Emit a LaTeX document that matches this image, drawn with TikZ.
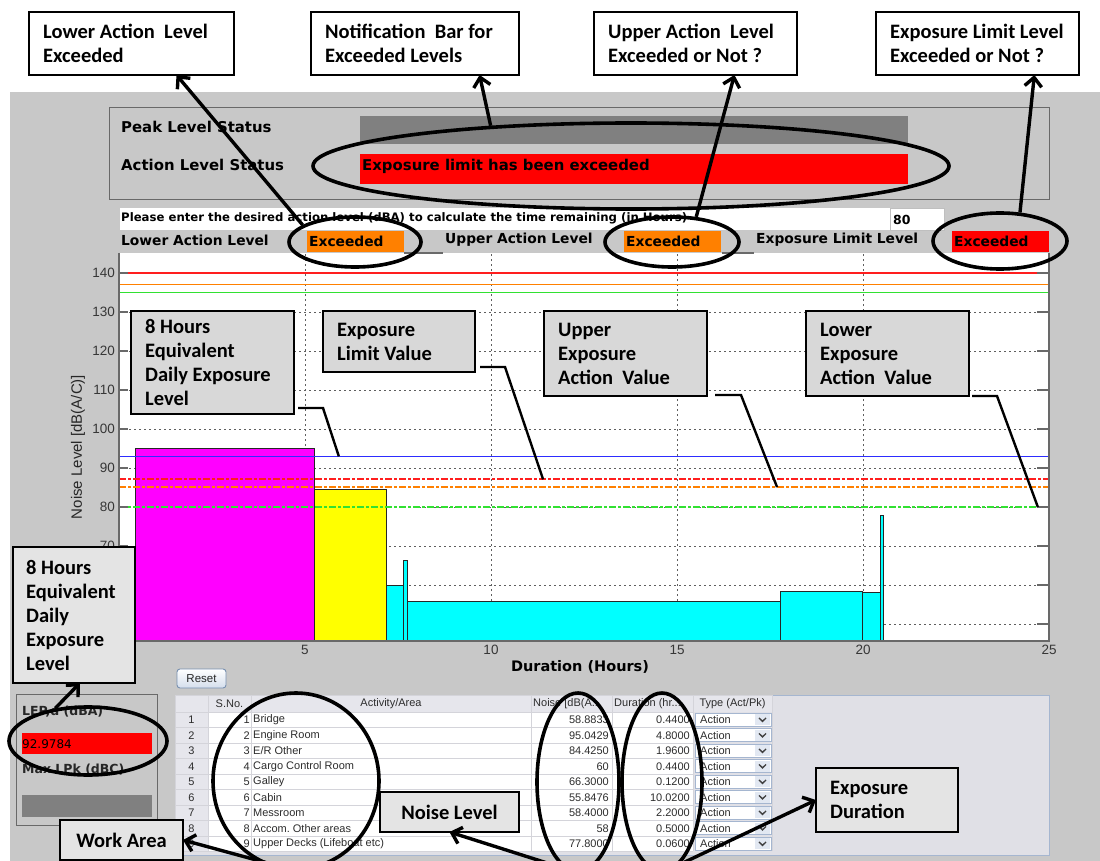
\documentclass[tikz,border=0pt]{standalone}
\usepackage{fontspec}
\usetikzlibrary{shapes.geometric,arrows.meta}
\setmainfont{Liberation Sans}
\newfontfamily\calloutfont{Carlito}
\newfontfamily\uifont{DejaVu Sans}

\definecolor{panelgray}{RGB}{200,200,200}
\definecolor{bargray}{RGB}{128,128,128}
\definecolor{alarmred}{RGB}{255,0,0}
\definecolor{alarmorange}{RGB}{255,128,0}
\definecolor{notefill}{RGB}{216,216,216}
\definecolor{notefilllight}{RGB}{228,228,228}
\definecolor{framegray}{RGB}{105,105,105}
\definecolor{gridgray}{RGB}{95,95,95}
\definecolor{limitred}{RGB}{255,30,30}
\definecolor{limitorange}{RGB}{255,128,0}
\definecolor{limitgreen}{RGB}{50,225,50}
\definecolor{lexblue}{RGB}{45,45,255}
\definecolor{barmagenta}{RGB}{255,0,255}
\definecolor{baryellow}{RGB}{255,255,0}
\definecolor{barcyan}{RGB}{0,255,255}
\definecolor{tablebg}{RGB}{224,224,230}
\definecolor{tableedge}{RGB}{165,182,208}
\definecolor{cellline}{RGB}{212,212,218}
\definecolor{headfill}{RGB}{230,230,236}
\definecolor{tabletext}{RGB}{45,45,45}
\definecolor{ticktext}{RGB}{55,55,55}
\definecolor{combobtn}{RGB}{226,232,242}
\definecolor{btnedge}{RGB}{120,144,176}
\definecolor{btnshade}{RGB}{212,222,236}

\begin{document}
\begin{tikzpicture}[x=1pt,y=-1pt,
  callbox/.style={draw=black, line width=2.8pt, anchor=north west, inner sep=0pt, outer sep=0pt},
  calltext/.style={anchor=west, inner sep=0pt, align=left,
    font=\calloutfont\bfseries\fontsize{20.5}{24}\selectfont},
  ring/.style={ellipse, draw=black, line width=3.6pt, inner sep=0pt},
  pointer/.style={line width=3.4pt, -{Straight Barb[length=9pt,width=17pt]}},
  leader/.style={line width=2.4pt, line join=miter},
  statuslabel/.style={anchor=west, inner sep=0pt, font=\uifont\bfseries\fontsize{14.9}{17}\selectfont},
  rowlabel/.style={anchor=west, inner sep=0pt, font=\uifont\bfseries\fontsize{13.8}{16}\selectfont},
  flag/.style={anchor=north west, inner xsep=2pt, inner ysep=0pt, text width=93pt,
    minimum height=21pt, align=left, font=\uifont\bfseries\fontsize{13.8}{16}\selectfont},
  gridline/.style={draw=gridgray, line width=0.9pt, dash pattern=on 2.4pt off 2.6pt},
  bar/.style={draw=black!85, line width=0.8pt},
  axisline/.style={draw=framegray, line width=1.1pt},
  limitline/.style={line width=1.4pt},
  actionline/.style={line width=2pt, dash pattern=on 7pt off 2pt on 3pt off 2pt},
  ticklabel/.style={inner sep=0pt, text=ticktext, font=\fontsize{13.5}{15}\selectfont},
  celltext/.style={inner sep=0pt, text=tabletext, font=\fontsize{11}{13}\selectfont},
  paneltext/.style={anchor=west, inner sep=0pt, text=black!85,
    font=\uifont\bfseries\fontsize{12.5}{14}\selectfont},
]
\useasboundingbox (0,0) rectangle (1100,861);
\clip (0,0) rectangle (1100,861);
\fill[white] (0,0) rectangle (1100,861);
\fill[panelgray] (10,92) rectangle (1100,861);

% ---------- status panel ----------
\draw[framegray, line width=1pt] (109,108) rectangle (1049,200);
\node[statuslabel] (peaklabel) at (121,127) {Peak Level Status};
\node[statuslabel] (actionlabel) at (121,165) {Action Level Status};
\fill[bargray] (360,116) rectangle (908,144);
\fill[alarmred] (360,154) rectangle (908,184);
\node[statuslabel] (actionmsg) at (362,166) {Exposure limit has been exceeded};

% ---------- action level input ----------
\fill[white] (120,208) rectangle (890,230);
\node[anchor=west, inner sep=0pt, font=\uifont\bfseries\fontsize{11.7}{13}\selectfont] (prompt)
  at (121,218) {Please enter the desired action level (dBA) to calculate the time remaining (in Hours)};
\node[draw=black!25, fill=white, anchor=north west, minimum width=54pt, minimum height=22pt,
  inner sep=0pt] (levelbox) at (890,208) {};
\node[anchor=west, inner sep=0pt, font=\uifont\bfseries\fontsize{12.5}{14}\selectfont] (levelvalue)
  at (893,220) {80};

% ---------- exceedance flags ----------
\node[rowlabel] (lowerlabel) at (121,240) {Lower Action Level};
\node[flag, fill=alarmorange] (lowerflag) at (307,231) {Exceeded};
\node[rowlabel] (upperlabel) at (445,240) {Upper Action Level};
\node[flag, fill=alarmorange] (upperflag) at (624,231) {Exceeded};
\node[rowlabel] (limitlabel) at (756,240) {Exposure Limit Level};
\node[flag, fill=alarmred] (limitflag) at (952,231) {Exceeded};

% ---------- noise chart ----------
\begin{scope}[shift={(119,819)}, x=37.2pt, y=3.9pt]
  \fill[white] (0,45.64) rectangle (25,145.13);
  \foreach \v in {50,60,...,130} \draw[gridline] (0,\v) -- (25,\v);
  \foreach \h in {5,10,15,20} \draw[gridline] (\h,45.64) -- (\h,145.13);
  % activity bars: start, end, level, colour
  \foreach \a/\b/\lv/\col in {0/0.44/58.88/barcyan, 0.44/5.24/95.04/barmagenta,
      5.24/7.20/84.43/baryellow, 7.20/7.64/60/barcyan, 7.64/7.76/66.3/barcyan,
      7.76/17.78/55.85/barcyan, 17.78/19.98/58.4/barcyan, 19.98/20.48/58/barcyan,
      20.48/20.54/77.8/barcyan}
    \draw[bar, fill=\col] (\a,45.64) rectangle (\b,\lv);
  % peak limits
  \draw[limitline, color=limitred] (0,140) -- (25,140);
  \draw[limitline, color=limitorange] (0,137) -- (25,137);
  \draw[limitline, color=limitgreen] (0,135) -- (25,135);
  % daily exposure and action values
  \draw[limitline, color=lexblue] (0,92.98) -- (25,92.98);
  \draw[actionline, color=limitred] (0,87.1) -- (25,87.1);
  \draw[actionline, color=limitorange] (0,85.1) -- (25,85.1);
  \draw[actionline, color=limitgreen] (0,80) -- (25,80);
  \coordinate (lexmark) at (5.91,92.98);
  \coordinate (elvmark) at (11.40,87.1);
  \coordinate (ueavmark) at (17.69,85.1);
  \coordinate (leavmark) at (24.70,80);
  % frame and ticks
  \draw[axisline] (0,145.13) -- (0,45.64) -- (25,45.64) -- (25,145.13);
  \foreach \v in {50,60,...,140} {
    \draw[axisline] (0,\v) -- (0.24,\v);
    \draw[axisline] (25,\v) -- (24.68,\v);
  }
  \foreach \v in {70,80,...,140}
    \node[ticklabel, anchor=east] (ytick\v) at ([xshift=-4pt]0,\v) {\v};
  \foreach \h in {5,10,...,25}
    \node[ticklabel, anchor=north] (xtick\h) at ([yshift=-4pt]\h,45.64) {\h};
\end{scope}
\draw[axisline] (404,253) -- (443,253);
\draw[axisline] (722,253) -- (754,253);
\node[rotate=90, inner sep=0pt, text=black!85, font=\fontsize{15}{17}\selectfont] (ylabel)
  at (78,447) {Noise Level [dB(A/C)]};
\node[inner sep=0pt, font=\uifont\bfseries\fontsize{14.5}{16}\selectfont] (xlabel)
  at (580,667) {Duration (Hours)};

% ---------- daily exposure panel ----------
\draw[framegray, line width=1pt] (16,694) rectangle (157,825);
\node[paneltext] (lepdlabel) at (22,712) {LEP,d (dBA)};
\fill[alarmred] (22,733) rectangle (152,754);
\node[anchor=west, inner sep=0pt, font=\uifont\fontsize{12}{14}\selectfont] (lepdvalue)
  at (22,744) {92.9784};
\node[paneltext] (lpklabel) at (22,770) {Max LPk (dBC)};
\fill[bargray] (22,795) rectangle (152,817);

% ---------- reset button ----------
\node[draw=btnedge, line width=0.9pt, rounded corners=3pt, top color=white, bottom color=btnshade,
  minimum width=49pt, minimum height=19pt, inner sep=0pt, text=black!85,
  font=\fontsize{11.5}{13}\selectfont] (reset) at (201.5,678.5) {Reset};

% ---------- activity table ----------
\draw[tableedge, fill=tablebg, line width=1pt] (175,695) rectangle (1049,855);
\fill[headfill] (175,695) rectangle (772,712);
\fill[headfill] (175,712) rectangle (208,851);
\fill[white] (208,712) rectangle (693,851);
\fill[tablebg] (693,712) rectangle (772,851);
\foreach \k in {0,...,9} \draw[cellline, line width=0.8pt] (175,{712+15.5*\k}) -- (693,{712+15.5*\k});
\foreach \cx in {175,208,251,531,612,693,772} \draw[cellline, line width=0.8pt] (\cx,695) -- (\cx,851);
\draw[cellline, line width=0.8pt] (175,695) -- (772,695);
\node[celltext] (hsno) at (229.5,703.5) {S.No.};
\node[celltext] (harea) at (391,703.5) {Activity/Area};
\node[celltext, anchor=west] (hnoise) at (533,703.5) {Noise [dB(A...};
\node[celltext, anchor=west] (hdur) at (614,703.5) {Duration (hr...};
\node[celltext] (htype) at (732.5,703.5) {Type (Act/Pk)};
\foreach \i/\act/\noise/\dur in {1/Bridge/58.8833/0.4400, 2/Engine Room/95.0429/4.8000,
    3/{E/R Other}/84.4250/1.9600, 4/Cargo Control Room/60/0.4400, 5/Galley/66.3000/0.1200,
    6/Cabin/55.8476/10.0200, 7/Messroom/58.4000/2.2000, 8/Accom.\ Other areas/58/0.5000,
    9/Upper Decks (Lifeboat etc)/77.8000/0.0600} {
  \pgfmathsetmacro{\rowy}{712+15.5*(\i-0.5)}
  \node[celltext] (rowhead\i) at (191.5,\rowy) {\i};
  \node[celltext, anchor=east] (sno\i) at (250,\rowy) {\i};
  \node[celltext, anchor=west] (area\i) at (253,\rowy) {\act};
  \node[celltext, anchor=east] (noise\i) at (609,\rowy) {\noise};
  \node[celltext, anchor=east] (dur\i) at (690,\rowy) {\dur};
  \draw[tableedge, fill=white, line width=0.8pt] (695,{\rowy-6.6}) rectangle (771,{\rowy+6.6});
  \fill[combobtn] (755,{\rowy-5.6}) rectangle (770,{\rowy+5.6});
  \draw[line width=1.3pt, black!75] (759,{\rowy-1.8}) -- (762.5,{\rowy+1.6}) -- (766,{\rowy-1.8});
  \node[celltext, anchor=west] (type\i) at (700,\rowy) {Action};
}

% ---------- callouts ----------
\node[callbox, fill=white, minimum width=205pt, minimum height=63pt] (T1) at (29,12) {};
\node[calltext] (T1txt) at ([xshift=14pt]T1.west) {Lower Action\ \ Level\\Exceeded};
\node[callbox, fill=white, minimum width=208pt, minimum height=63pt] (T2) at (311,12) {};
\node[calltext] (T2txt) at ([xshift=14pt]T2.west) {Notification\ \ Bar for\\Exceeded Levels};
\node[callbox, fill=white, minimum width=203pt, minimum height=63pt] (T3) at (594,12) {};
\node[calltext] (T3txt) at ([xshift=14pt]T3.west) {Upper Action\ \ Level\\Exceeded or Not ?};
\node[callbox, fill=white, minimum width=203pt, minimum height=63pt] (T4) at (876,12) {};
\node[calltext] (T4txt) at ([xshift=14pt]T4.west) {Exposure Limit Level\\Exceeded or Not ?};

\node[callbox, fill=notefill, minimum width=163pt, minimum height=103pt] (P1) at (131,311) {};
\node[calltext] (P1txt) at ([xshift=14pt]P1.west) {8 Hours\\Equivalent\\Daily Exposure\\Level};
\node[callbox, fill=notefill, minimum width=152pt, minimum height=61pt] (P2) at (323,311) {};
\node[calltext] (P2txt) at ([xshift=14pt]P2.west) {Exposure\\Limit Value};
\node[callbox, fill=notefill, minimum width=163pt, minimum height=85pt] (P3) at (544,311) {};
\node[calltext] (P3txt) at ([xshift=14pt]P3.west) {Upper\\Exposure\\Action\ \ Value};
\node[callbox, fill=notefill, minimum width=163pt, minimum height=85pt] (P4) at (806,311) {};
\node[calltext] (P4txt) at ([xshift=14pt]P4.west) {Lower\\Exposure\\Action\ \ Value};

\node[callbox, fill=notefilllight, minimum width=122pt, minimum height=136pt] (L1) at (13,547) {};
\node[calltext] (L1txt) at ([xshift=13pt]L1.west) {8 Hours\\Equivalent\\Daily\\Exposure\\Level};

\node[callbox, fill=notefilllight, minimum width=123pt, minimum height=40pt] (B1) at (60,820) {};
\node[calltext, anchor=center] (B1txt) at (B1.center) {Work Area};
\node[callbox, fill=notefilllight, minimum width=139pt, minimum height=40pt] (B2) at (380,792) {};
\node[calltext, anchor=center] (B2txt) at (B2.center) {Noise Level};
\node[callbox, fill=notefilllight, minimum width=142pt, minimum height=64pt] (B3) at (816,768) {};
\node[calltext] (B3txt) at ([xshift=14pt]B3.west) {Exposure\\Duration};

% ---------- leader lines to the reference levels ----------
\draw[leader] ([xshift=4pt,yshift=6pt]P1.south east) -- ++(25,0) -- (lexmark);
\draw[leader] ([xshift=5pt,yshift=5pt]P2.south east) -- ++(25,0) -- (elvmark);
\draw[leader] ([xshift=8pt,yshift=1pt]P3.south east) -- ++(26,0) -- (ueavmark);
\draw[leader] ([xshift=3pt]P4.south east) -- ++(25,0) -- (leavmark);

% ---------- highlight rings ----------
\node[ring, minimum width=636pt, minimum height=86pt] (E1) at (631,166) {};
\node[ring, minimum width=132pt, minimum height=50pt] (E2) at (355,242) {};
\node[ring, minimum width=134pt, minimum height=50pt] (E3) at (672,242) {};
\node[ring, minimum width=134pt, minimum height=56pt] (E4) at (1000,241) {};
\node[ring, minimum width=158pt, minimum height=68pt] (E5) at (88,741) {};
\node[ring, minimum width=166pt, minimum height=176pt] (E6) at (296,781) {};
\node[ring, minimum width=82pt, minimum height=178pt] (E7) at (578,782) {};
\node[ring, minimum width=80pt, minimum height=178pt] (E8) at (662,782) {};

% ---------- pointers ----------
\draw[pointer] (E2.162) -- (T1.-35);
\draw[pointer] (E1.164) -- (T2.-26);
\draw[pointer] (E3.46) -- (T3.-39);
\draw[pointer] (E4.55) -- (T4.-29);
\draw[pointer] (E5.135) -- (L1.-85);
\draw[pointer] (E6.south) -- (B1.east);
\draw[pointer] (E7.south) -- (B2.south);
\draw[pointer] (E8.south) -- (B3.west);
\end{tikzpicture}
\end{document}
